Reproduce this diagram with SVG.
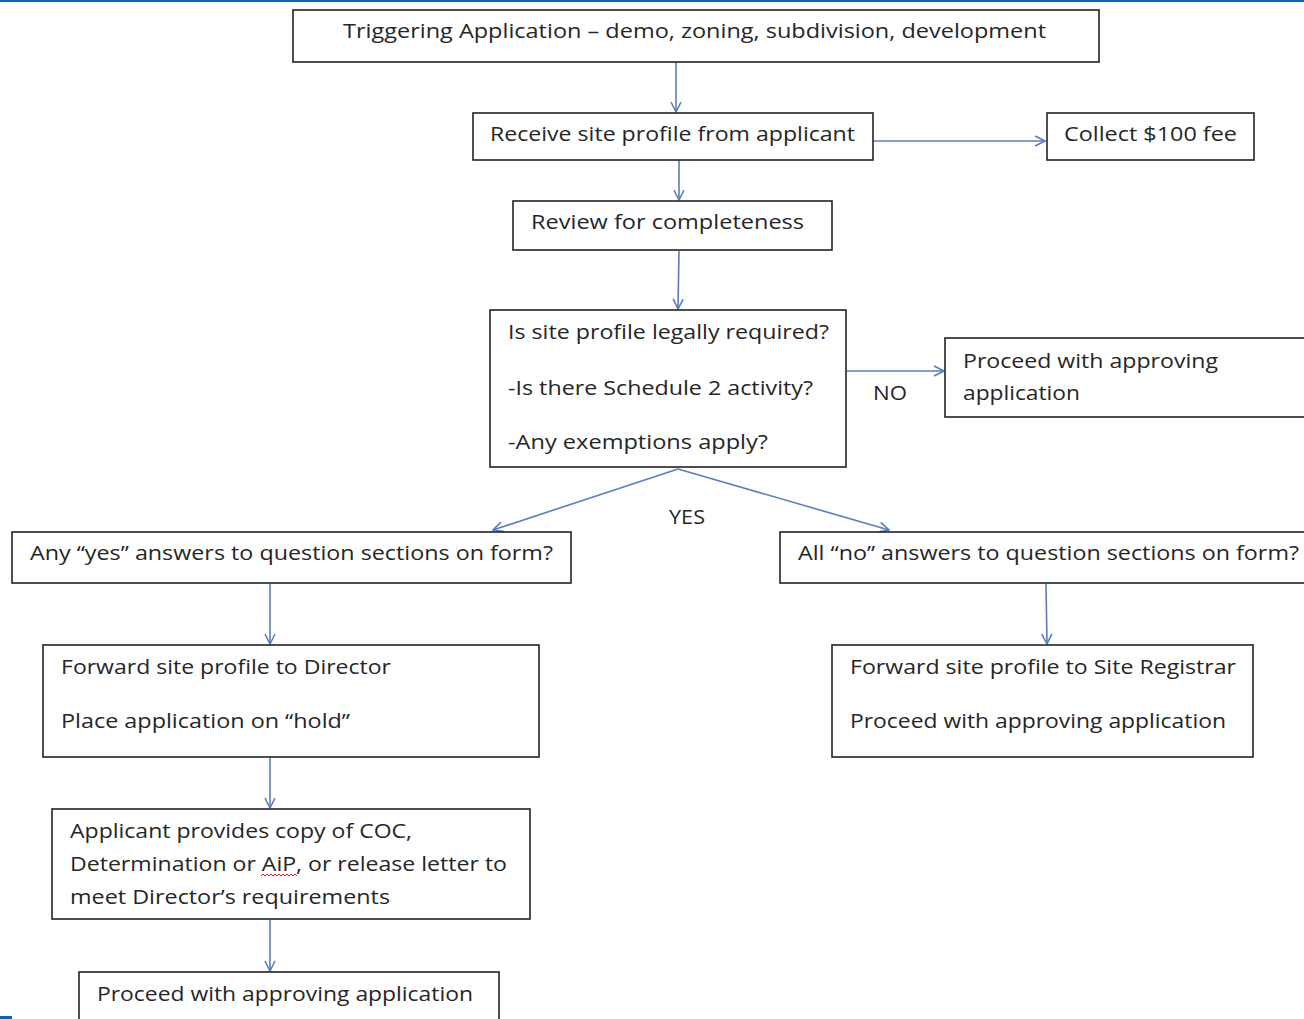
<svg xmlns="http://www.w3.org/2000/svg" width="1304" height="1019" viewBox="0 0 1304 1019">
<style>
.box{fill:#fff;stroke:#222;stroke-width:1.6}
.t{font-family:"Open Sans","Noto Sans",sans-serif;font-size:20px;fill:#262626}
.c{stroke:#5a7fb8;stroke-width:1.6;fill:none}
</style>
<defs>
<marker id="a" viewBox="0 0 12 12" refX="11" refY="6" markerWidth="12" markerHeight="12" markerUnits="userSpaceOnUse" orient="auto">
<path d="M1,1 L11,6 L1,11" fill="none" stroke="#5a7fb8" stroke-width="1.6"/>
</marker>
</defs>
<rect x="0" y="0" width="1304" height="2" fill="#0a63ab"/>
<rect x="0" y="1016" width="12" height="3" fill="#0a63ab"/>
<g id="connectors">
<line class="c" x1="676" y1="62" x2="676" y2="112" marker-end="url(#a)"/>
<line class="c" x1="679" y1="160" x2="679" y2="200" marker-end="url(#a)"/>
<line class="c" x1="873" y1="141" x2="1045" y2="141" marker-end="url(#a)"/>
<line class="c" x1="679" y1="251" x2="678" y2="309" marker-end="url(#a)"/>
<line class="c" x1="847" y1="371" x2="944" y2="371" marker-end="url(#a)"/>
<line class="c" x1="678" y1="469" x2="493" y2="530" marker-end="url(#a)"/>
<line class="c" x1="678" y1="469" x2="889" y2="530" marker-end="url(#a)"/>
<line class="c" x1="270" y1="584" x2="270" y2="644" marker-end="url(#a)"/>
<line class="c" x1="1046" y1="584" x2="1047" y2="644" marker-end="url(#a)"/>
<line class="c" x1="270" y1="758" x2="270" y2="808" marker-end="url(#a)"/>
<line class="c" x1="270" y1="920" x2="270" y2="971" marker-end="url(#a)"/>
<text class="t" x="873" y="400" textLength="34" lengthAdjust="spacingAndGlyphs">NO</text>
<text class="t" x="669" y="524" textLength="36" lengthAdjust="spacingAndGlyphs">YES</text>
</g>
<g id="trigger">
<rect class="box" x="293" y="10" width="806" height="52"/>
<text class="t" x="343" y="38" textLength="703" lengthAdjust="spacingAndGlyphs">Triggering Application – demo, zoning, subdivision, development</text>
</g>
<g id="receive">
<rect class="box" x="473" y="113" width="400" height="47"/>
<text class="t" x="490" y="141" textLength="365" lengthAdjust="spacingAndGlyphs">Receive site profile from applicant</text>
</g>
<g id="fee">
<rect class="box" x="1047" y="113" width="207" height="47"/>
<text class="t" x="1064" y="141" textLength="173" lengthAdjust="spacingAndGlyphs">Collect $100  fee</text>
</g>
<g id="review">
<rect class="box" x="513" y="201" width="319" height="49"/>
<text class="t" x="531" y="229" textLength="273" lengthAdjust="spacingAndGlyphs">Review for completeness</text>
</g>
<g id="decision">
<rect class="box" x="490" y="310" width="356" height="157"/>
<text class="t" x="508" y="339" textLength="321" lengthAdjust="spacingAndGlyphs">Is site profile legally required?</text>
<text class="t" x="508" y="395" textLength="305" lengthAdjust="spacingAndGlyphs">-Is there Schedule 2 activity?</text>
<text class="t" x="508" y="449" textLength="260" lengthAdjust="spacingAndGlyphs">-Any exemptions apply?</text>
</g>
<g id="proceed-no">
<rect class="box" x="945" y="338" width="362" height="79"/>
<text class="t" x="963" y="368" textLength="255" lengthAdjust="spacingAndGlyphs">Proceed with approving</text>
<text class="t" x="963" y="400" textLength="117" lengthAdjust="spacingAndGlyphs">application</text>
</g>
<g id="any-yes">
<rect class="box" x="12" y="532" width="559" height="51"/>
<text class="t" x="30" y="560" textLength="523" lengthAdjust="spacingAndGlyphs">Any “yes” answers to question sections on form?</text>
</g>
<g id="all-no">
<rect class="box" x="780" y="532" width="528" height="51"/>
<text class="t" x="798" y="560" textLength="501" lengthAdjust="spacingAndGlyphs">All “no” answers to question sections on form?</text>
</g>
<g id="director">
<rect class="box" x="43" y="645" width="496" height="112"/>
<text class="t" x="61" y="674" textLength="330" lengthAdjust="spacingAndGlyphs">Forward site profile to Director</text>
<text class="t" x="61" y="728" textLength="289" lengthAdjust="spacingAndGlyphs">Place application on “hold”</text>
</g>
<g id="registrar">
<rect class="box" x="832" y="645" width="421" height="112"/>
<text class="t" x="850" y="674" textLength="386" lengthAdjust="spacingAndGlyphs">Forward site profile to Site Registrar</text>
<text class="t" x="850" y="728" textLength="376" lengthAdjust="spacingAndGlyphs">Proceed with approving application</text>
</g>
<g id="applicant">
<rect class="box" x="52" y="809" width="478" height="110"/>
<text class="t" x="70" y="838" textLength="342" lengthAdjust="spacingAndGlyphs">Applicant provides copy of COC,</text>
<text class="t" x="70" y="871" textLength="437" lengthAdjust="spacingAndGlyphs">Determination or AiP, or release letter to</text>
<text class="t" x="70" y="904" textLength="320" lengthAdjust="spacingAndGlyphs">meet Director’s requirements</text>
<path d="M261,876 l2,-2 l2,2 l2,-2 l2,2 l2,-2 l2,2 l2,-2 l2,2 l2,-2 l2,2 l2,-2 l2,2 l2,-2 l2,2 l2,-2 l2,2 l2,-2 l2,2" fill="none" stroke="#d02020" stroke-width="1"/>
</g>
<g id="proceed-final">
<rect class="box" x="79" y="972" width="420" height="52"/>
<text class="t" x="97" y="1001" textLength="376" lengthAdjust="spacingAndGlyphs">Proceed with approving application</text>
</g>
</svg>
